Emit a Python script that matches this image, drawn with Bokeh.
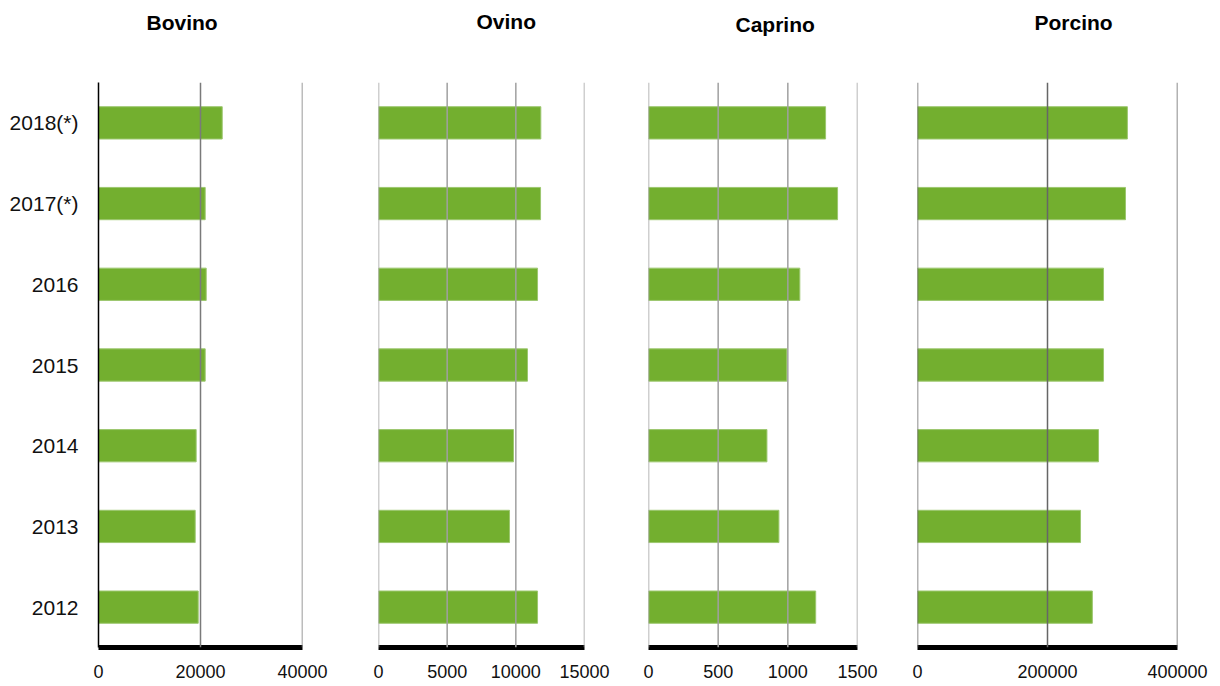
from bokeh.plotting import figure
from bokeh.layouts import row
from bokeh.models import FactorRange, Range1d, FixedTicker, NumeralTickFormatter, Title, Span
from bokeh.embed import file_html
from bokeh.resources import INLINE

years = ["2012", "2013", "2014", "2015", "2016", "2017(*)", "2018(*)"]
bovino = [19550, 18960, 19150, 20920, 21120, 20920, 24260]
ovino = [11580, 9540, 9830, 10850, 11580, 11800, 11820]
caprino = [1200, 936, 850, 993, 1086, 1357, 1271]
porcino = [269000, 250800, 278500, 286200, 286200, 320000, 322900]

titles = ["Bovino", "Ovino", "Caprino", "Porcino"]
series = [bovino, ovino, caprino, porcino]
x_max = [40000, 15000, 1500, 400000]
ticks = [[0, 20000, 40000], [0, 5000, 10000, 15000], [0, 500, 1000, 1500], [0, 200000, 400000]]

FONT = "Liberation Sans"
BAR = "#73AF2F"

# layout: (fig width, border left, border right, border top, border bottom, title offset, grid color, title line height)
layout = [
    (338, 98, 36, 82, 36, 48, "#7a7a7a", 1.057),
    (275, 40, 29, 79, 39, 98, "#a0a0a0", 1.08),
    (275, 35, 31, 81, 37, 87, "#a0a0a0", 1.01),
    (324, 29, 35, 82, 36, 117, "#666666", 1.057),
]

figs = []
for i, (name, vals) in enumerate(zip(titles, series)):
    w, bl, br, bt, bb, toff, gcol, tlh = layout[i]
    p = figure(
        width=w, height=686,
        y_range=FactorRange(factors=years),
        x_range=Range1d(0, x_max[i]),
        output_backend="svg", toolbar_location=None,
        y_axis_location="left" if i == 0 else None,
        min_border_left=bl, min_border_right=br,
        min_border_top=bt, min_border_bottom=bb,
        title=None,
    )
    p.add_layout(Title(text=name + "\n \n ", text_font=FONT, text_font_size="21px",
                       text_font_style="bold", text_color="#000000",
                       text_line_height=tlh,
                       align="left", offset=toff, standoff=0), "above")
    p.hbar(y=years, right=vals, left=0, height=0.4,
           fill_color=BAR, line_color="#9cc76f", line_width=1)

    p.outline_line_color = None
    p.background_fill_color = "white"
    p.border_fill_color = "white"
    p.ygrid.grid_line_color = None
    p.xgrid.grid_line_color = None
    for t in ticks[i]:
        if i == 0 and t == 0:
            continue
        p.add_layout(Span(location=t, dimension="height", line_color=gcol, line_width=1.5))

    xa = p.xaxis[0]
    xa.ticker = FixedTicker(ticks=ticks[i])
    xa.formatter = NumeralTickFormatter(format="0")
    xa.axis_line_color = "black"
    xa.axis_line_width = 5
    xa.major_tick_line_color = None
    xa.minor_tick_line_color = None
    xa.major_tick_out = 0
    xa.major_tick_in = 0
    xa.major_label_text_font = FONT
    xa.major_label_text_font_size = "18px"
    xa.major_label_text_color = "#111111"
    xa.major_label_standoff = 17

    if i == 0:
        ya = p.yaxis[0]
        ya.axis_line_color = "black"
        ya.axis_line_width = 1.5
        ya.major_tick_line_color = None
        ya.minor_tick_line_color = None
        ya.major_tick_out = 0
        ya.major_tick_in = 0
        ya.major_label_text_font = FONT
        ya.major_label_text_font_size = "21px"
        ya.major_label_text_color = "#111111"
        ya.major_label_standoff = 20
    figs.append(p)

layout_row = row(*figs, spacing=0)
open("out.html", "w").write(file_html(layout_row, INLINE))
